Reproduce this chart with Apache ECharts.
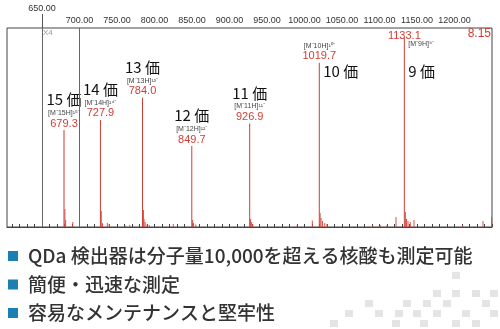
<!DOCTYPE html>
<html>
<head>
<meta charset="utf-8">
<script src="https://cdn.jsdelivr.net/npm/echarts@6/dist/echarts.min.js"></script>
<style>
  html, body { margin: 0; padding: 0; background: #fff; }
  #main { width: 500px; height: 329px; }
</style>
</head>
<body>
<div id="main"></div>
<script>
// 主なピーク (m/z, 相対強度 %)
const peakMz = [679.3, 727.9, 784.0, 849.7, 926.9, 1019.7, 1133.1]
const peakIntensity = [48.7, 53.8, 64.9, 40.7, 52.0, 82.5, 95.0]
const peakCharge = [15, 14, 13, 12, 11, 10, 9]

// 小さいノイズピーク
const noiseMz = [680.5, 681.5, 691.0, 729.0, 730.5, 737.0, 739.5, 761.0, 767.0, 785.2, 786.0, 787.5, 790.0, 793.0,
  825.0, 850.8, 852.0, 855.0, 928.0, 929.5, 931.0, 990.0, 1010.4, 1020.8, 1022.0, 1024.0, 1027.0, 1030.0,
  1091.0, 1101.0, 1110.0, 1122.0, 1134.5, 1136.0, 1138.0, 1141.0, 1146.0, 1211.0, 1238.0, 1249.5]
const noiseIntensity = [9.0, 3.5, 2.5, 8.0, 2.0, 2.0, 1.5, 0.8, 1.0, 8.5, 4.0, 2.5, 1.2, 1.0,
  1.5, 3.5, 2.0, 1.2, 4.0, 2.5, 1.5, 0.8, 3.3, 7.0, 4.5, 3.0, 2.0, 1.5,
  0.8, 1.0, 1.0, 5.0, 7.5, 4.0, 3.0, 2.5, 3.5, 0.8, 3.0, 5.0]

// 軸目盛
const tickValues = [610, 620, 630, 640, 650, 660, 670, 680, 690, 700, 710, 720, 730, 740, 750, 760, 770, 780, 790, 800,
  810, 820, 830, 840, 850, 860, 870, 880, 890, 900, 910, 920, 930, 940, 950, 960, 970, 980, 990, 1000,
  1010, 1020, 1030, 1040, 1050, 1060, 1070, 1080, 1090, 1100, 1110, 1120, 1130, 1140, 1150, 1160, 1170, 1180, 1190, 1200,
  1210, 1220, 1230, 1240, 1250]
const labelValues = [700, 750, 800, 850, 900, 950, 1000, 1050, 1100, 1150, 1200]

const bullets = ['QDa 検出器は分子量10,000を超える核酸も測定可能', '簡便・迅速な測定', '容易なメンテナンスと堅牢性']

const RED = '#d33c34'
const sup = { '0': '⁰', '1': '¹', '2': '²', '3': '³', '4': '⁴', '5': '⁵', '6': '⁶', '7': '⁷', '8': '⁸', '9': '⁹' }
const toSup = (n) => String(n).split('').map(c => sup[c]).join('') + '⁻'
const ionName = (z) => `[M⁻${z}H]${toSup(z)}`

const rich = {
  v: { fontSize: 15, color: '#111', fontFamily: 'Noto Sans CJK JP', lineHeight: 16, padding: [0, 0, 1, 0] },
  b: { fontSize: 7, color: '#444', fontFamily: 'Liberation Sans', lineHeight: 10 },
  n: { fontSize: 11, color: RED, fontFamily: 'Liberation Sans', lineHeight: 11 }
}

const peakData = peakMz.map((mz, i) => {
  const z = peakCharge[i]
  let text
  if (z === 10) text = `{b|${ionName(z)}}\n{n|${mz.toFixed(1)}}`
  else if (z === 9) text = `{n|${mz.toFixed(1)}}`
  else text = `{v|${z} 価}\n{b|${ionName(z)}}\n{n|${mz.toFixed(1)}}`
  return {
    value: [mz, peakIntensity[i]],
    label: { show: true, position: 'top', distance: z === 9 ? -4 : 1, formatter: text, rich: rich }
  }
})
const noiseData = noiseMz.map((mz, i) => ({ value: [mz, noiseIntensity[i]] }))

// 10価・9価の注記 (右側に置く)
const sideNotes = [
  { value: [1019.7, 78], text: '{v|10 価}' },
  { value: [1133.1, 78], text: '{v|9 価}' },
  { value: [1133.1, 92], text: '{b|' + ionName(9) + '}' }
]

const graphics = [
  { type: 'text', right: 9, top: 28, style: { text: '8.15', fill: RED, font: '12px "Liberation Sans"' } },
  { type: 'text', left: 43, top: 29, style: { text: 'X4', fill: '#9a9a9a', font: '8px "Liberation Sans"' } }
]
bullets.forEach((t, i) => {
  const cy = 256 + i * 28.5
  graphics.push({ type: 'rect', shape: { x: 8, y: cy - 5, width: 10, height: 10 }, style: { fill: '#1b7fb3' } })
  graphics.push({
    type: 'text', x: 28, y: cy,
    style: { text: t, fill: '#333', font: '500 19px "Noto Sans CJK JP"', textVerticalAlign: 'middle' }
  })
})
// 背景のドット模様
const dots = [[452, 272], [433, 290], [452, 290], [472, 290], [490, 290], [365, 300], [403, 300], [423, 300],
  [443, 300], [482, 300], [345, 310], [375, 310], [395, 310], [413, 310], [433, 310], [462, 310], [490, 310],
  [330, 320], [392, 320], [420, 320], [452, 320], [472, 320]]
dots.forEach(d => {
  graphics.push({ type: 'rect', z: -1, shape: { x: d[0], y: d[1], width: 8, height: 7 }, style: { fill: '#e4e4e4' } })
})

const option = {
  animation: false,
  grid: { left: 7, right: 8, top: 28, bottom: 102, show: true, borderColor: '#444', borderWidth: 1 },
  xAxis: [
    {
      type: 'value', position: 'top', min: 603.3, max: 1250,
      axisLine: { show: true, lineStyle: { color: '#444' } },
      axisTick: { show: true, length: 3, customValues: tickValues, lineStyle: { color: '#444' } },
      axisLabel: {
        customValues: labelValues, margin: 3, fontSize: 9, color: '#333', fontFamily: 'Liberation Sans',
        formatter: (v) => v.toFixed(2)
      },
      splitLine: { show: false }
    },
    {
      type: 'value', position: 'top', min: 603.3, max: 1250,
      axisLine: { show: false },
      axisTick: { show: true, length: 14, customValues: [650], lineStyle: { color: '#555' } },
      axisLabel: {
        customValues: [650], margin: 15, fontSize: 9, color: '#333', fontFamily: 'Liberation Sans',
        formatter: (v) => v.toFixed(2)
      },
      splitLine: { show: false }
    }
  ],
  yAxis: { type: 'value', min: 0, max: 100, show: false, splitLine: { show: false } },
  graphic: graphics,
  series: [
    {
      name: 'spectrum',
      type: 'bar',
      barWidth: 1,
      barGap: '-100%',
      itemStyle: { color: RED },
      data: peakData,
      markLine: {
        silent: true,
        symbol: 'none',
        label: { show: false },
        lineStyle: { color: '#666', type: 'solid', width: 1 },
        data: [{ xAxis: 650 }, { xAxis: 700 }]
      }
    },
    {
      name: 'noise',
      type: 'bar',
      barWidth: 1,
      barGap: '-100%',
      itemStyle: { color: '#d6504a' },
      data: noiseData
    },
    {
      name: 'notes',
      type: 'scatter',
      symbolSize: 0,
      itemStyle: { opacity: 0 },
      data: sideNotes.map(n => ({
        value: n.value,
        label: { show: true, position: 'right', distance: 4, color: '#111', opacity: 1, formatter: n.text, rich: rich }
      }))
    }
  ]
}

const myChart = echarts.init(document.getElementById('main'))
option && myChart.setOption(option)
</script>
</body>
</html>
